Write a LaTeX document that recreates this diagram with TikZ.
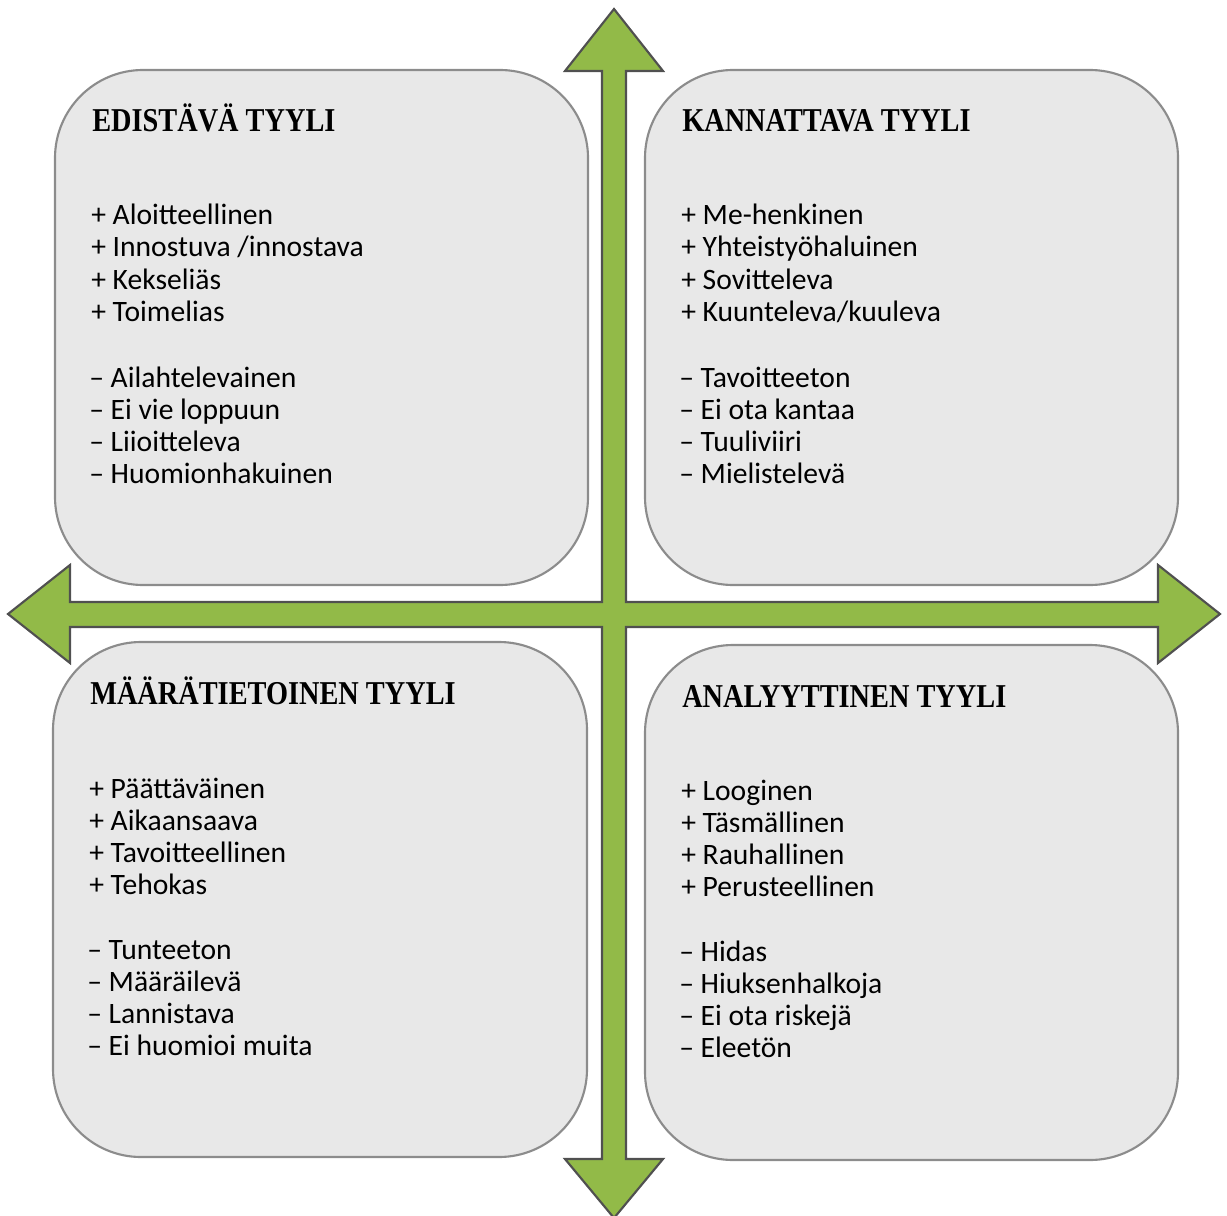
\documentclass[tikz,border=0pt]{standalone}
\usepackage{fontspec}
\setmainfont{Carlito}
\newfontfamily\hdfont[FakeStretch=0.85]{Liberation Serif}
\definecolor{arrowgreen}{RGB}{146,186,72}
\definecolor{arrowline}{RGB}{80,80,80}
\definecolor{boxgray}{RGB}{232,232,232}
\definecolor{boxline}{RGB}{140,140,140}
\begin{document}
\begin{tikzpicture}[x=0.75pt,y=-0.75pt,
  box/.style={fill=boxgray,draw=boxline,line width=1.6pt,rounded corners=66pt},
  cross/.style={fill=arrowgreen,draw=arrowline,line width=1.6pt,line join=miter},
  head/.style={anchor=base west,inner sep=0pt,font=\hdfont\bfseries\fontsize{25}{30}\selectfont},
  item/.style={anchor=base west,inner sep=0pt,font=\fontsize{22.2}{24}\selectfont}]
\useasboundingbox (0,0) rectangle (1227,1216);
% boxes
\path[box] (55,70) rectangle (588,585);
\path[box] (645,70) rectangle (1178,585);
\path[box] (53,642) rectangle (587,1157);
\path[box] (645,645) rectangle (1178,1160);
% four-way arrow
\path[cross] (614,9) -- (663,71) -- (626,71) -- (626,602) -- (1158,602) -- (1158,565)
  -- (1220,614) -- (1158,663) -- (1158,627) -- (626,627) -- (626,1159) -- (663,1159)
  -- (614,1218) -- (565,1159) -- (602,1159) -- (602,627) -- (70,627) -- (70,663)
  -- (8,614) -- (70,565) -- (70,602) -- (602,602) -- (602,71) -- (565,71) -- cycle;
% headers
\node[head] (tlh) at (92,132) {EDISTÄVÄ TYYLI};
\node[head] (trh) at (682,132) {KANNATTAVA TYYLI};
\node[head] (blh) at (90,704) {MÄÄRÄTIETOINEN TYYLI};
\node[head] (brh) at (682,707) {ANALYYTTINEN TYYLI};
% top-left
\foreach \w [count=\i] in {Aloitteellinen,Innostuva /innostava,Kekseliäs,Toimelias}
  \node[item] (tlp\i) at (91,{225+32*(\i-1)}) {+ \w};
\foreach \w [count=\i] in {Ailahtelevainen,Ei vie loppuun,Liioitteleva,Huomionhakuinen}
  \node[item] (tlm\i) at (89,{387+32*(\i-1)}) {– \w};
% top-right
\foreach \w [count=\i] in {Me-henkinen,Yhteistyöhaluinen,Sovitteleva,Kuunteleva/kuuleva}
  \node[item] (trp\i) at (681,{225+32*(\i-1)}) {+ \w};
\foreach \w [count=\i] in {Tavoitteeton,Ei ota kantaa,Tuuliviiri,Mielistelevä}
  \node[item] (trm\i) at (679,{387+32*(\i-1)}) {– \w};
% bottom-left
\foreach \w [count=\i] in {Päättäväinen,Aikaansaava,Tavoitteellinen,Tehokas}
  \node[item] (blp\i) at (89,{798+32*(\i-1)}) {+ \w};
\foreach \w [count=\i] in {Tunteeton,Määräilevä,Lannistava,Ei huomioi muita}
  \node[item] (blm\i) at (87,{959+32*(\i-1)}) {– \w};
% bottom-right
\foreach \w [count=\i] in {Looginen,Täsmällinen,Rauhallinen,Perusteellinen}
  \node[item] (brp\i) at (681,{800+32*(\i-1)}) {+ \w};
\foreach \w [count=\i] in {Hidas,Hiuksenhalkoja,Ei ota riskejä,Eleetön}
  \node[item] (brm\i) at (679,{961+32*(\i-1)}) {– \w};
\end{tikzpicture}
\end{document}
